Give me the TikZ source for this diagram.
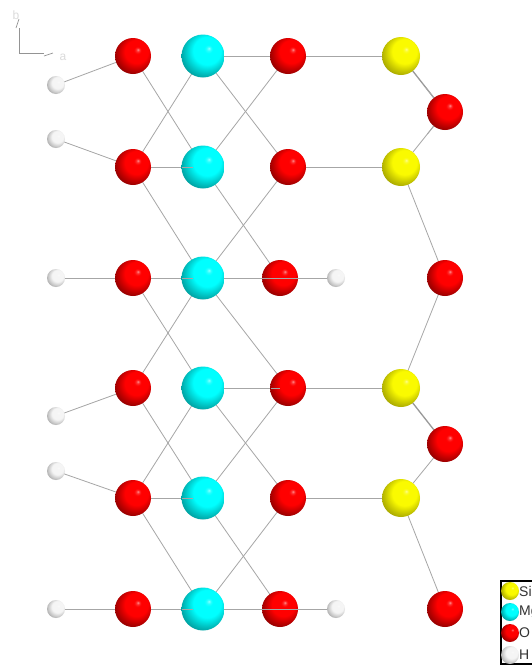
\documentclass[tikz,border=0pt]{standalone}
\usepackage{fontspec}
\setmainfont{Liberation Sans}
\usetikzlibrary{calc}
\newcommand{\mkball}[4]{%
  \pgfdeclareradialshading{#1}{\pgfqpoint{7bp}{9bp}}{%
    color(0bp)=(#2!45!white);
    color(2.5bp)=(#2!85!white);
    color(5bp)=(#2);
    color(16bp)=(#2);
    color(25bp)=(#2!#3!black);
    color(34bp)=(#2!#4!black);
    color(50bp)=(#2!#4!black)}}
\definecolor{sphY}{RGB}{250,250,0}
\definecolor{sphC}{RGB}{0,255,255}
\definecolor{sphR}{RGB}{255,0,0}
\definecolor{sphH}{RGB}{245,245,245}
\mkball{ballY}{sphY}{78}{58}
\mkball{ballC}{sphC}{75}{52}
\mkball{ballR}{sphR}{72}{45}
\mkball{ballH}{sphH}{82}{62}
\tikzset{
  x=1pt,y=-1pt,
  atom/.style={circle,inner sep=0pt,outer sep=0pt,minimum size=#1},
  bond/.style={draw=black!35,line width=0.8pt},
  bondthick/.style={draw=black!40,line width=1.3pt},
  axis/.style={draw=black!42,line width=0.7pt},
  si/.style={atom=38pt,shading=ballY},
  mg/.style={atom=43pt,shading=ballC},
  ox/.style={atom=36pt,shading=ballR},
  hy/.style={atom=18pt,shading=ballH},
  lsi/.style={atom=18pt,shading=ballY},
  lmg/.style={atom=18pt,shading=ballC},
  lox/.style={atom=18pt,shading=ballR},
  lhy/.style={atom=18pt,shading=ballH},
  axl/.style={inner sep=0pt,text=black!14,font=\fontsize{12}{12}\selectfont},
  leg/.style={inner sep=0pt,anchor=west,text=black!80,font=\fontsize{14}{14}\selectfont},
}
\begin{document}
\begin{tikzpicture}
\useasboundingbox[fill=white] (0,0) rectangle (532,665);
\foreach \n/\x/\y in {
 a1/133/56,b1/203/56,c1/288/56,d1/401/56,h1/56/85,e1/445/112,
 a2/133/167,b2/203/167,c2/288/167,d2/401/167,h2/56/139,
 a3/133/278,b3/203/278,c3/280/278,g3/336/278,h3/56/278,e3/445/278,
 a4/133/388,b4/203/388,c4/288/388,d4/401/388,h4/56/416,e4/445/444,
 a5/133/498,b5/203/498,c5/288/498,d5/401/498,h5/56/471,
 a6/133/609,b6/203/609,c6/280/609,g6/336/609,h6/56/609,e6/445/609}
 {\coordinate (\n) at (\x,\y);}
% bonds
\foreach \p/\q in {
 h1/a1,h2/a2,h3/a3,h4/a4,h5/a5,h6/a6,
 a1/b2,b1/a2,b1/c2,b2/c1,b1/c1,c1/d1,e1/d2,c2/d2,
 a2/b2,a2/b3,b2/c3,c2/b3,d2/e3,e3/d4,
 a3/b3,b3/c3,c3/g3,b3/a4,b3/c4,a3/b4,
 b4/c4,c4/d4,e4/d5,b4/a5,b4/c5,c4/b5,a4/b5,
 a5/b5,c5/d5,a5/b6,b5/c6,c5/b6,d5/e6,
 a6/b6,b6/c6,c6/g6}
 {\draw[bond] (\p) -- (\q);}
\draw[bondthick] (d1) -- (e1);
\draw[bondthick] (d4) -- (e4);
% atoms
\foreach \n in {a1,c1,e1,a2,c2,a3,c3,e3,a4,c4,e4,a5,c5,a6,c6,e6} {\node[ox] (o\n) at (\n) {};}
\foreach \n in {b1,b2,b3,b4,b5,b6} {\node[mg] (m\n) at (\n) {};}
\foreach \n in {d1,d2,d4,d5} {\node[si] (s\n) at (\n) {};}
\foreach \n in {h1,h2,h3,h4,h5,h6,g3,g6} {\node[hy] (w\n) at (\n) {};}
% bond ends seen through the spheres
\foreach \p/\q/\s/\f in {a2/b2/0.7/0.85,a3/b3/0.7/0.85,a5/b5/0.7/0.85,a6/b6/0.7/0.85,b4/c4/0.8/0.9,d1/e1/0.55/0.75,d2/e1/0.6/0.75}
 {\draw[bond] ($(\p)!\s!(\q)$) -- ($(\p)!\f!(\q)$);}
\draw[bond] ($(c3)!-0.32!(g3)$) -- ($(c3)!0.4!(g3)$);
\draw[bond] ($(c6)!-0.32!(g6)$) -- ($(c6)!0.4!(g6)$);
% axes
\coordinate (ax0) at (19,53);
\coordinate (axb) at (19,28);
\coordinate (axa) at (44,53);
\coordinate (tipb) at (19,19);
\coordinate (tipbs) at (16,28);
\coordinate (tipa) at (53,53);
\coordinate (tipas) at (44,56);
\draw[axis] (axb) -- (ax0) -- (axa);
\draw[axis] (tipbs) -- (tipb);
\draw[axis] (tipas) -- (tipa);
\node[axl] (lb) at (16,15) {b};
\node[axl] (la) at (63,57) {a};
% legend
\draw[black,line width=1.3pt,fill=white] (501,581) rectangle (534,664);
\node[lsi] (k1) at (510,591) {};
\node[lmg] (k2) at (510,612) {};
\node[lox] (k3) at (510,633) {};
\node[lhy] (k4) at (510,655) {};
\node[leg] (t1) at (519,591) {Si};
\node[leg] (t2) at (519,612) {Mg};
\node[leg] (t3) at (519,633) {O};
\node[leg] (t4) at (519,655) {H};
\end{tikzpicture}
\end{document}
